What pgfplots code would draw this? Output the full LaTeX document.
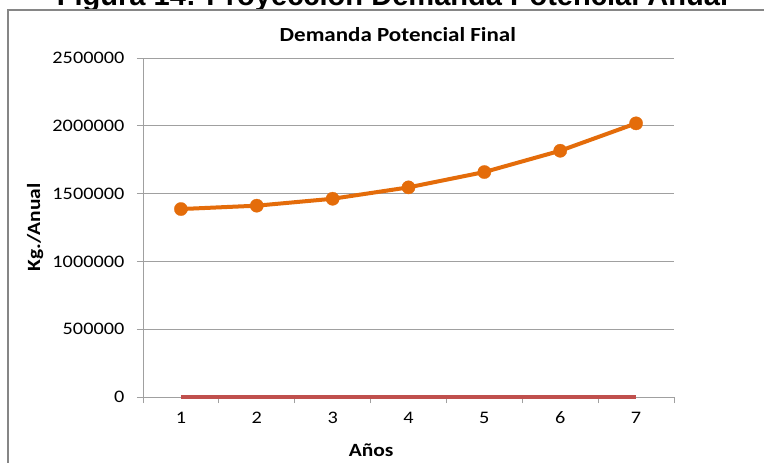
\documentclass[border=0pt]{standalone}
\usepackage{fontspec}
\usepackage{pgfplots}
\pgfplotsset{compat=1.18}
\setmainfont{Carlito}[FakeStretch=1.15]
\newfontfamily\figfont{Liberation Sans}

\definecolor{serieA}{RGB}{228,108,10}
\definecolor{serieB}{RGB}{192,80,77}
\definecolor{gridgray}{RGB}{160,160,160}
\definecolor{framegray}{RGB}{134,134,134}

\begin{document}
\begin{tikzpicture}
\useasboundingbox (0,0) rectangle (573pt,346.5pt);
\clip (0,0) rectangle (573pt,346.5pt);

% cut-off figure caption at the very top
\node[anchor=base, inner sep=0pt, font=\figfont\bfseries\fontsize{21.8}{24}\selectfont]
  at (294.4pt,342pt) {Figura 14: Proyección Demanda Potencial Anual};

% chart area with its frame (runs off the page right and bottom)
\filldraw[draw=framegray, fill=white, line width=1.5pt]
  (6pt,-20pt) rectangle (620pt,339pt);

\begin{axis}[
    at={(107.25pt,48.75pt)}, anchor=south west,
    scale only axis,
    width=398.25pt, height=254.25pt,
    xmin=0.5, xmax=7.5,
    ymin=0, ymax=2500000,
    xtick={1,...,7},
    minor xtick={0.5,1.5,...,7.5},
    ytick={0,500000,...,2500000},
    scaled y ticks=false,
    /pgf/number format/assume math mode=true,
    yticklabel={\pgfmathprintnumber[fixed,1000 sep={}]{\tick}},
    tick label style={font=\fontsize{13.2}{15}\selectfont, text=black},
    axis x line*=bottom, axis y line*=left,
    axis line style={gridgray, -},
    tick style={gridgray, line width=0.6pt},
    major x tick style={draw=none},
    tick align=outside,
    major tick length=4.5pt, minor tick length=4.5pt,
    ymajorgrids,
    grid style={gridgray, line width=0.7pt},
    xticklabel style={yshift=-3pt},
    yticklabel style={xshift=-6pt},
    title={\bfseries Demanda Potencial Final},
    title style={font=\fontsize{15}{17}\selectfont, at={(0.5,1)}, xshift=-8pt, yshift=3pt},
    xlabel={\bfseries Años},
    ylabel={\bfseries Kg./Anual},
    xlabel style={xshift=-28pt, yshift=-8pt},
    label style={font=\fontsize{14}{16}\selectfont},
    clip=false,
]
\addplot[serieB, line width=2.3pt] coordinates {
  (1,0) (2,0) (3,0) (4,0) (5,0) (6,0) (7,0)
};
\addplot[serieA, line width=3pt, mark=*, mark size=5pt,
         mark options={solid, fill=serieA, draw=serieA, line width=0.2pt}] coordinates {
  (1,1386000)
  (2,1411000)
  (3,1462000)
  (4,1546000)
  (5,1659000)
  (6,1816000)
  (7,2018000)
};
\end{axis}
\end{tikzpicture}
\end{document}
